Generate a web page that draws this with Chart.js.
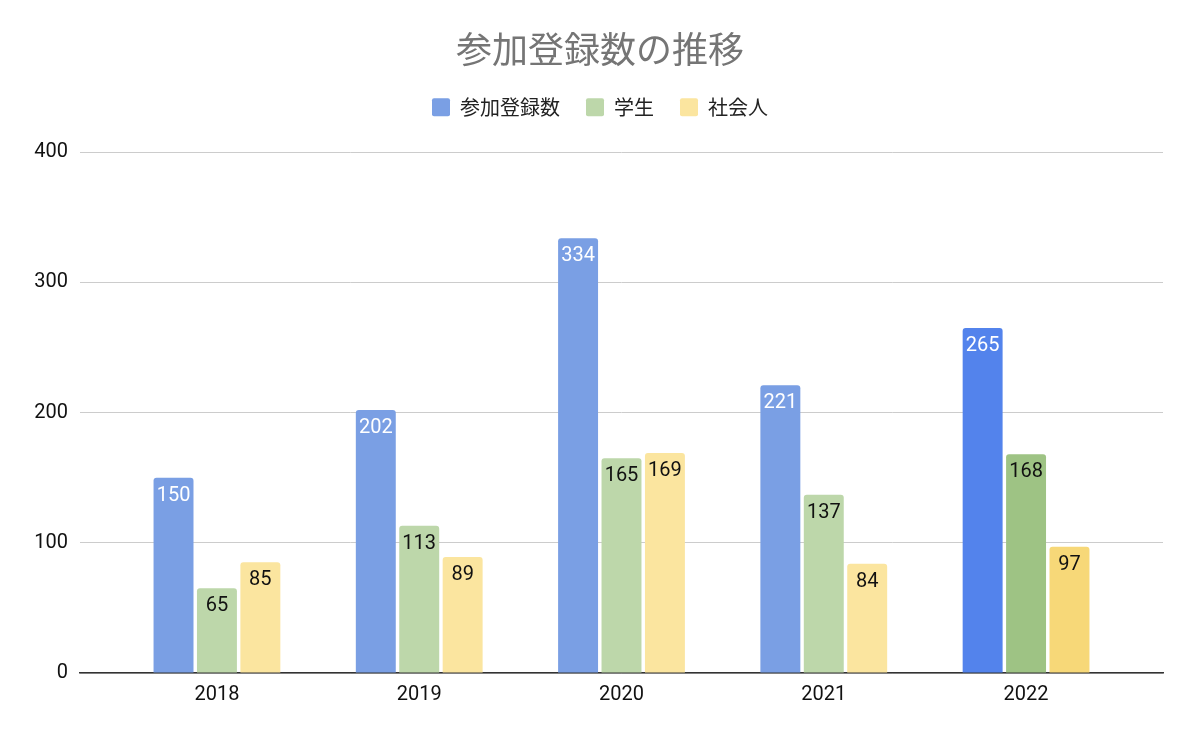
<!DOCTYPE html>
<html>
<head>
<meta charset="utf-8">
<script src="https://cdn.jsdelivr.net/npm/chart.js@4"></script>
<style>
html,body{margin:0;padding:0;background:#fff;}
#wrap{width:1200px;height:741px;}
</style>
</head>
<body>
<div id="wrap"><canvas id="c" width="1200" height="741"></canvas></div>
<script>
const years = ['2018', '2019', '2020', '2021', '2022'];
const registrations = [150, 202, 334, 221, 265];
const students = [65, 113, 165, 137, 168];
const workers = [85, 89, 169, 84, 97];
const seriesNames = ['参加登録数', '学生', '社会人'];
const yTicks = [0, 100, 200, 300, 400];

const lightColors = ['rgb(122,159,228)', 'rgb(189,215,170)', 'rgb(251,229,159)'];
const darkColors = ['rgb(83,131,236)', 'rgb(158,195,132)', 'rgb(247,216,120)'];
const labelColors = ['#ffffff', '#111111', '#111111'];

const CJK = '"Noto Sans CJK JP", "Noto Sans", sans-serif';
const NUM = 'Roboto, "Noto Sans", sans-serif';

function makeDataset(i, values) {
  return {
    label: seriesNames[i],
    data: values.map((v, k) => ({x: k, y: v})),
    backgroundColor: (ctx) => (ctx.dataIndex === years.length - 1 ? darkColors[i] : lightColors[i]),
    borderWidth: 0,
    borderRadius: {topLeft: 3, topRight: 3, bottomLeft: 0, bottomRight: 0},
    borderSkipped: 'bottom',
    categoryPercentage: 0.644,
    barPercentage: 0.92,
    yAxisID: 'y'
  };
}

const valueLabels = {
  id: 'valueLabels',
  afterDatasetsDraw(chart) {
    const ctx = chart.ctx;
    ctx.save();
    ctx.font = '20px ' + NUM;
    ctx.textAlign = 'center';
    ctx.textBaseline = 'middle';
    chart.data.datasets.forEach((ds, di) => {
      const meta = chart.getDatasetMeta(di);
      meta.data.forEach((bar, k) => {
        ctx.fillStyle = labelColors[di];
        ctx.fillText(String(ds.data[k].y), bar.x, bar.y + 18);
      });
    });
    ctx.restore();
  }
};

const legendGap = {
  id: 'legendGap',
  beforeLayout(chart) {
    const lg = chart.legend;
    if (lg && !lg._gapPatched) {
      lg._gapPatched = true;
      const origFit = lg.fit;
      lg.fit = function () {
        origFit.call(this);
        this.height += 25;
      };
    }
  }
};

new Chart(document.getElementById('c'), {
  type: 'bar',
  data: {
    datasets: [
      makeDataset(0, registrations),
      makeDataset(1, students),
      makeDataset(2, workers)
    ]
  },
  options: {
    responsive: false,
    animation: false,
    devicePixelRatio: 1,
    layout: {padding: {left: 0, right: 0, top: 0, bottom: 24}},
    plugins: {
      title: {
        display: true,
        text: '参加登録数の推移',
        color: '#757575',
        font: {family: CJK, size: 36, weight: 'normal'},
        padding: {top: 28, bottom: 0}
      },
      legend: {
        display: true,
        labels: {
          color: '#222222',
          font: {family: CJK, size: 20},
          boxWidth: 18,
          boxHeight: 18,
          padding: 26,
          useBorderRadius: true,
          borderRadius: 2
        }
      },
      tooltip: {enabled: false}
    },
    scales: {
      x: {
        type: 'linear',
        offset: false,
        min: -0.677,
        max: years.length - 1 + 0.677,
        grid: {display: false, drawTicks: false},
        border: {display: true, color: '#333333', width: 1.5},
        afterBuildTicks: (scale) => { scale.ticks = years.map((_, i) => ({value: i})); },
        ticks: {
          color: '#111111',
          font: {family: NUM, size: 20},
          padding: 10,
          autoSkip: false,
          maxRotation: 0,
          callback: (v) => years[v]
        }
      },
      y: {
        position: 'left',
        min: 0,
        max: 400,
        afterBuildTicks: (scale) => { scale.ticks = yTicks.map(v => ({value: v})); },
        afterFit: (scale) => { scale.width = 80; },
        grid: {color: '#cccccc', drawTicks: false, lineWidth: 1},
        border: {display: false},
        ticks: {
          color: '#111111',
          font: {family: NUM, size: 20},
          padding: 12
        }
      },
      yRight: {
        position: 'right',
        display: true,
        grid: {display: false, drawTicks: false},
        border: {display: false},
        ticks: {display: false},
        afterFit: (scale) => { scale.width = 37; }
      }
    }
  },
  plugins: [valueLabels, legendGap]
});
</script>
</body>
</html>
